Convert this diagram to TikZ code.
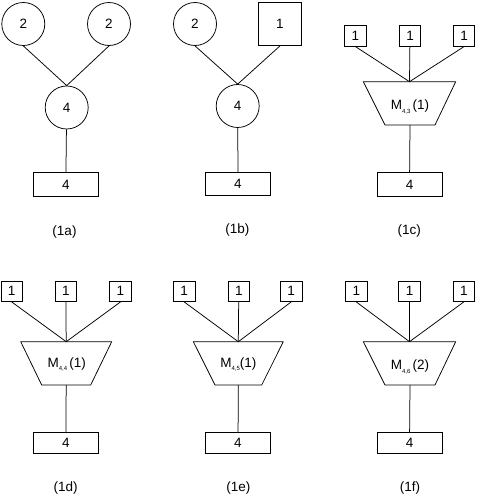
\documentclass[tikz,border=0pt]{standalone}
\usepackage{fontspec}
\setmainfont{Liberation Sans}
\usepackage{tikz}
\usetikzlibrary{calc, positioning}
\usepackage{tkz-euclide}

\newcommand{\Mlab}[3]{M\raisebox{-0.45ex}{\fontsize{6}{7}\selectfont #1}#3(#2)}
\tikzset{
  rnd/.style={circle, draw, minimum size=43pt, inner sep=0pt},
  bigsq/.style={rectangle, draw, minimum size=43pt, inner sep=0pt},
  unit/.style={rectangle, draw, minimum width=21.5pt, minimum height=20.5pt, inner sep=0pt},
  base/.style={rectangle, draw, minimum width=65pt, minimum height=23.5pt, inner sep=0pt},
  lowbase/.style={base, minimum height=21.5pt},
  tag/.style={inner sep=0pt}
}

\begin{document}
\begin{tikzpicture}[x=1pt, y=-1pt, line width=0.75pt, font=\fontsize{13.5}{15}\selectfont]
\useasboundingbox (0,0) rectangle (477,498);
% (1a)
\node[rnd] (a2l) at (23.3,24) {2};
\node[rnd] (a2r) at (109,24) {2};
\node[rnd] (a4) at (66.7,107.5) {4};
\node[base] (ab) at (65.8,184.5) {4};
\draw (a2l.south) -- (a4.north) -- (a2r.south);
\draw (a4) -- (ab);
\node[tag] (la) at (64.5,231.7) {(1a)};
% (1b)
\node[rnd] (b2) at (195,24) {2};
\node[bigsq] (b1) at (280,24) {1};
\node[rnd] (b4) at (237.7,106) {4};
\node[base] (bb) at (238,184) {4};
\draw (b2.south) -- (b4.north) -- (b1.south);
\draw (b4) -- (bb);
\node[tag] (lb) at (237.3,230) {(1b)};
% (1c)
\tkzDefPoints{363.3/81.7/C1, 455.7/81.7/C2, 435/125/C3, 385/125/C4}
\tkzDrawPolygon[line width=0.75pt](C1,C2,C3,C4)
\tkzDefMidPoint(C1,C2) \tkzGetPoint{cj}
\tkzDefMidPoint(C3,C4) \tkzGetPoint{cl}
\node[unit] (c1) at (355.5,36) {1};
\node[unit] (c2) at (410,36) {1};
\node[unit] (c3) at (464,36) {1};
\node (cM) at (410,107) {\Mlab{4,3}{1}{\,}};
\node[base] (cb) at (409.5,184.5) {4};
\draw (c1.south) -- (cj) -- (c3.south);
\draw (c2) -- (cj);
\draw (cl) -- (cb);
\node[tag] (lc) at (409.3,230.7) {(1c)};
% (1d)
\tkzDefPoints{20.7/341.7/D1, 111.7/341.7/D2, 90.7/385/D3, 41.7/385/D4}
\tkzDrawPolygon[line width=0.75pt](D1,D2,D3,D4)
\tkzDefMidPoint(D1,D2) \tkzGetPoint{dj}
\tkzDefMidPoint(D3,D4) \tkzGetPoint{dl}
\node[unit] (d1) at (11.7,291.3) {1};
\node[unit] (d2) at (65.8,291.3) {1};
\node[unit] (d3) at (120.5,291.3) {1};
\node (dM) at (66.7,364.3) {\Mlab{4,4}{1}{\,}};
\node[lowbase] (db) at (65.8,443) {4};
\draw (d1.south) -- (dj) -- (d3.south);
\draw (d2) -- (dj);
\draw (dl) -- (db);
\node[tag] (ld) at (65.7,487.7) {(1d)};
% (1e)
\tkzDefPoints{193.3/341.7/E1, 283.3/341.7/E2, 261.7/385/E3, 215/385/E4}
\tkzDrawPolygon[line width=0.75pt](E1,E2,E3,E4)
\tkzDefMidPoint(E1,E2) \tkzGetPoint{ej}
\tkzDefMidPoint(E3,E4) \tkzGetPoint{el}
\node[unit] (e1) at (184.2,291.3) {1};
\node[unit] (e2) at (238.8,291.3) {1};
\node[unit] (e3) at (291.2,291.3) {1};
\node (eM) at (238.3,364.3) {\Mlab{4,5}{1}{}};
\node[lowbase] (eb) at (238,443) {4};
\draw (e1.south) -- (ej) -- (e3.south);
\draw (e2) -- (ej);
\draw (el) -- (eb);
\node[tag] (le) at (238.3,487.7) {(1e)};
% (1f)
\tkzDefPoints{363.3/341.7/F1, 455.7/341.7/F2, 435/385/F3, 385/385/F4}
\tkzDrawPolygon[line width=0.75pt](F1,F2,F3,F4)
\tkzDefMidPoint(F1,F2) \tkzGetPoint{fj}
\tkzDefMidPoint(F3,F4) \tkzGetPoint{fl}
\node[unit] (f1) at (356.3,291.3) {1};
\node[unit] (f2) at (409.5,291.3) {1};
\node[unit] (f3) at (463.8,291.3) {1};
\node (fM) at (410,367) {\Mlab{4,6}{2}{\,}};
\node[lowbase] (fb) at (409.5,443) {4};
\draw (f1.south) -- (fj) -- (f3.south);
\draw (f2) -- (fj);
\draw (fl) -- (fb);
\node[tag] (lf) at (410,488.3) {(1f)};
\end{tikzpicture}
\end{document}
